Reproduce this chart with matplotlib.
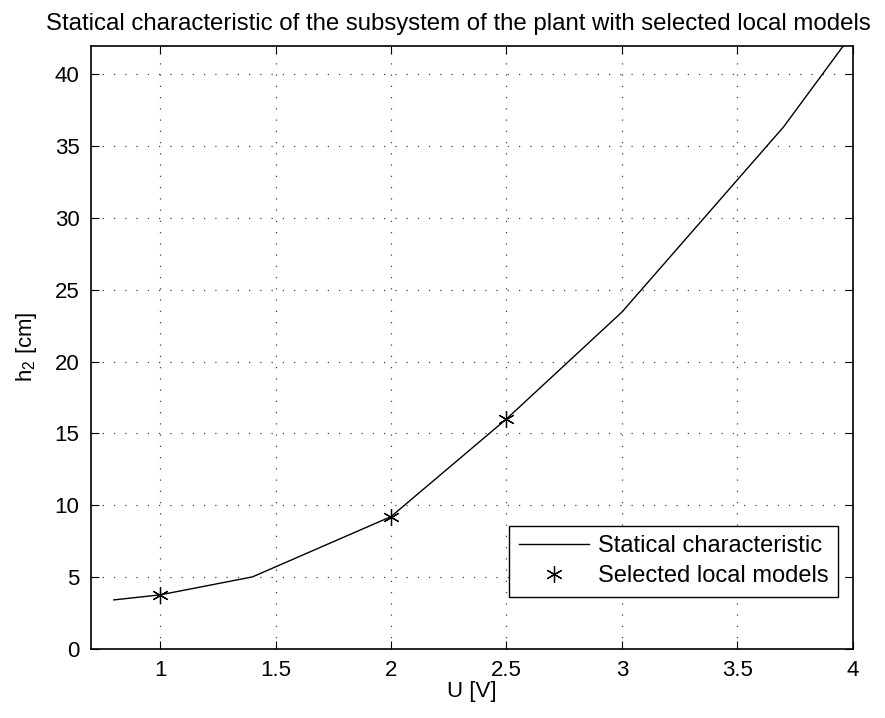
import numpy as np
import matplotlib
matplotlib.use("Agg")
import matplotlib.pyplot as plt

plt.rcParams['font.family'] = ['Liberation Sans', 'DejaVu Sans']
plt.rcParams['mathtext.fontset'] = 'custom'
plt.rcParams['mathtext.rm'] = 'Liberation Sans'
plt.rcParams['mathtext.it'] = 'Liberation Sans'

# static characteristic h2 = f(U)
u_char = [0.8, 1.0, 1.4, 2.0, 2.5, 3.0, 3.7, 4.0]
h_char = [3.4, 3.75, 5.0, 9.2, 16.0, 23.45, 36.35, 42.9]

# operating points of the local models
u_models = [1.0, 2.0, 2.5]
h_models = [3.75, 9.2, 16.0]

x_ticks = [1, 1.5, 2, 2.5, 3, 3.5, 4]
x_ticklabels = ['1', '1.5', '2', '2.5', '3', '3.5', '4']
y_ticks = [0, 5, 10, 15, 20, 25, 30, 35, 40]

fig = plt.figure(figsize=(8.85, 7.18), dpi=100)
ax = fig.add_axes([0.1025, 0.0965, 0.8613, 0.8399])

ax.plot(u_char, h_char, color='black', linewidth=1.0, label='Statical characteristic')
# six-armed asterisk marker
ax.plot(u_models, h_models, linestyle='none', marker=(6, 2, 0), color='black',
        markersize=12, markeredgewidth=0.9, label='Selected local models')

ax.set_xlim(0.7, 4)
ax.set_ylim(0, 42)
ax.set_xticks(x_ticks)
ax.set_xticklabels(x_ticklabels)
ax.set_yticks(y_ticks)

ax.grid(True, linestyle=(0, (1, 8)), color='0.25', linewidth=0.9)
ax.tick_params(direction='in', length=6, width=0.8, top=True, right=True,
               labelsize=16, pad=8, colors='black')
for s in ax.spines.values():
    s.set_linewidth(1.2)

ax.set_xlabel('U [V]', fontsize=16, labelpad=0)
ax.set_ylabel(r'h$_2$ [cm]', fontsize=16, labelpad=11)
ax.set_title('Statical characteristic of the subsystem of the plant with selected local models',
             fontsize=17.3, pad=11, x=0.482)

leg = ax.legend(loc='lower right', bbox_to_anchor=(0.980, 0.0862), borderaxespad=0,
                fontsize=17, frameon=True, fancybox=False, edgecolor='black',
                framealpha=1, handlelength=3.0, handletextpad=0.35,
                borderpad=0.4, labelspacing=0.34)
leg.get_frame().set_linewidth(1.0)

fig.savefig('out.png', dpi=100)
